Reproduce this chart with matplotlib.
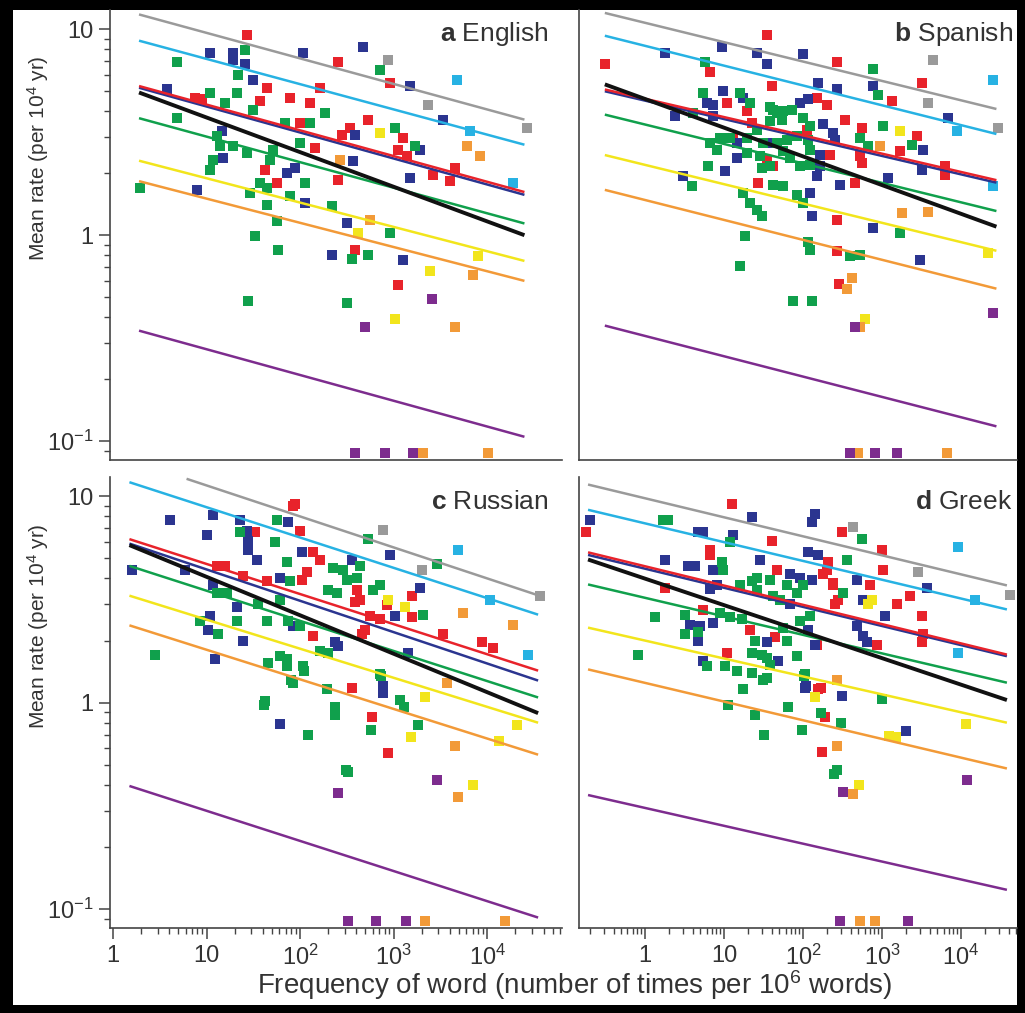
import numpy as np
import matplotlib
matplotlib.use("Agg")
import matplotlib.pyplot as plt
from matplotlib.patches import Rectangle
from matplotlib.ticker import LogLocator, NullFormatter

plt.rcParams['font.family'] = ['Liberation Sans', 'DejaVu Sans']
plt.rcParams['mathtext.fontset'] = 'custom'
plt.rcParams['mathtext.rm'] = 'Liberation Sans'
plt.rcParams['mathtext.it'] = 'Liberation Sans:italic'
plt.rcParams['mathtext.bf'] = 'Liberation Sans:bold'

colors = {'red': '#e8232b', 'navy': '#2b3590', 'green': '#10a04c', 'cyan': '#27b2e3',
          'gray': '#9a9a9a', 'yellow': '#f2e51c', 'orange': '#f29a38',
          'purple': '#7d2c8e', 'black': '#111111'}

# ---- a English: (frequency, rate) per word class ----
eng_red = [(27, 9.35), (7.5, 4.66), (8.9, 4.56), (44, 5.2), (37, 4.5), (42, 2.08), (57, 1.79),
           (255, 6.9), (918, 5.5), (533, 3.64), (281, 3.07), (342, 3.33), (1250, 2.97), (1117, 2.6),
           (1394, 2.43), (2645, 1.96), (4000, 1.83), (4550, 2.12), (255, 1.85), (387, 0.85),
           (1117, 0.57), (128, 4.4), (78, 4.66), (164, 5.2), (100, 3.5), (145, 2.65)]
eng_navy = [(10.9, 7.7), (19.2, 7.7), (19.2, 7.06), (25.8, 6.75), (31.4, 5.64), (3.78, 5.1),
            (14.6, 3.22), (15, 2.37), (73, 2.0), (7.9, 1.66), (108, 7.7), (472, 8.2), (1500, 5.33),
            (3380, 3.64), (387, 3.07), (1920, 2.6), (1500, 1.9), (369, 2.3), (318, 1.15),
            (220, 0.8), (1265, 0.76), (113, 1.43), (88, 2.12)]
eng_green = [(25.8, 7.9), (4.84, 6.9), (21.7, 6.0), (10.9, 4.93), (21, 4.93), (31.4, 4.07),
             (4.84, 3.72), (12.9, 3.04), (13.9, 2.72), (11.7, 2.32), (10.9, 2.08), (19.2, 2.72),
             (27, 2.51), (51, 2.6), (48, 2.32), (1.94, 1.7), (29, 1.6), (44, 1.7), (44, 1.4),
             (57, 1.17), (33, 0.99), (58, 0.85), (717, 6.31), (1040, 3.33), (1700, 2.72),
             (220, 1.38), (918, 1.02), (533, 0.8), (27.7, 0.48), (318, 0.47), (360, 0.77),
             (15.8, 4.4), (69, 3.52), (100, 2.81), (128, 3.52), (184, 3.94), (78, 1.55),
             (113, 1.79), (37, 1.79)]
eng_cyan = [(4780, 5.64), (6550, 3.22), (19000, 1.79)]
eng_gray = [(873, 7.06), (2340, 4.31), (26800, 3.33)]
eng_yellow = [(717, 3.15), (417, 1.02), (8020, 0.79), (1040, 0.39), (2450, 0.67)]
eng_orange = [(6110, 2.72), (8400, 2.43), (267, 2.32), (560, 1.18), (4550, 0.36), (7080, 0.64),
              (2070, 0.088), (10250, 0.088)]
eng_purple = [(495, 0.36), (2580, 0.49), (387, 0.088), (811, 0.088), (1617, 0.088)]

# ---- b Spanish ----
spa_red = [(0.31, 6.75), (35, 9.35), (269, 6.9), (6.65, 6.2), (3210, 5.5), (40.5, 5.33),
           (1340, 4.5), (10.9, 4.4), (150, 4.66), (201, 4.31), (19.5, 4.0), (22.6, 3.52),
           (112, 3.25), (340, 3.64), (558, 3.33), (2770, 3.04), (1680, 2.56), (527, 2.43),
           (558, 2.24), (6270, 2.17), (6270, 1.96), (13, 2.97), (35, 2.32), (42, 2.17),
           (220, 2.45), (27, 1.79), (455, 1.79), (269, 1.18), (269, 0.84), (286, 0.58)]
spa_navy = [(1.79, 7.7), (9.4, 8.17), (26, 7.7), (35, 6.75), (100, 7.6), (155, 5.5), (269, 5.1),
            (770, 5.33), (9.7, 5.0), (17.4, 4.66), (6.1, 4.4), (7.3, 4.31), (2.4, 3.8), (7.3, 3.8),
            (92, 4.4), (116, 4.56), (179, 3.45), (240, 3.15), (254, 2.9), (6840, 3.72),
            (3300, 2.6), (3210, 2.08), (1190, 1.9), (14.6, 2.81), (14.6, 2.37), (40.5, 2.81),
            (164, 2.45), (164, 2.17), (150, 1.94), (10.3, 2.05), (3.0, 1.94), (123, 1.6),
            (294, 1.75), (130, 1.24), (770, 1.08), (3000, 0.76)]
spa_green = [(5.75, 6.9), (770, 6.38), (890, 4.8), (5.4, 4.93), (15.9, 4.93), (21.3, 4.4),
             (4.05, 3.94), (42, 4.07), (56, 4.0), (72.6, 4.07), (38, 3.6), (54, 3.64), (100, 3.72),
             (123, 3.4), (1030, 3.4), (527, 2.97), (665, 2.72), (2400, 2.75), (6.65, 2.81),
             (8.15, 2.6), (8.9, 2.97), (11.9, 2.97), (19.5, 2.97), (26, 3.25), (38, 4.17),
             (47, 3.94), (31, 2.81), (47, 2.81), (63, 2.9), (84, 3.04), (116, 2.9), (123, 2.6),
             (19.5, 2.51), (28.6, 2.43), (56, 2.56), (68, 2.37), (92, 2.17), (123, 2.2),
             (6.3, 2.17), (30, 2.12), (38, 2.17), (3.9, 1.73), (42, 1.75), (56, 1.73), (17.4, 1.6),
             (21.3, 1.43), (26, 1.32), (30, 1.24), (84, 1.57), (100, 1.43), (1680, 1.02),
             (18.5, 0.99), (116, 0.93), (123, 0.85), (394, 0.79), (527, 0.8), (15.9, 0.71),
             (75, 0.48), (130, 0.48)]
spa_cyan = [(25400, 5.64), (8900, 3.22), (25400, 1.73)]
spa_gray = [(4420, 7.06), (3820, 4.4), (29400, 3.33)]
spa_yellow = [(1680, 3.22), (22000, 0.82), (610, 0.39)]
spa_orange = [(940, 2.72), (1790, 1.28), (417, 0.62), (363, 0.55), (3820, 1.3), (527, 0.36),
              (497, 0.088), (6650, 0.088)]
spa_purple = [(455, 0.36), (25400, 0.42), (394, 0.088), (815, 0.088), (1550, 0.088)]

# ---- c Russian ----
rus_red = [(84, 9.0), (88, 9.2), (33, 6.7), (100, 6.8), (138, 5.4), (164, 4.9), (12.9, 4.6),
           (15.8, 4.6), (24.6, 4.1), (44, 3.9), (119, 4.3), (105, 3.95), (407, 3.5), (1580, 3.3),
           (387, 3.06), (438, 3.16), (851, 2.96), (1580, 2.6), (561, 2.64), (717, 2.53),
           (3380, 2.14), (8850, 1.96), (11600, 1.85), (460, 2.14), (495, 2.26), (138, 2.11),
           (360, 1.18), (590, 0.85), (873, 0.57)]
rus_navy = [(4.1, 7.65), (11.7, 8.1), (10.1, 6.5), (22.8, 7.7), (27, 6.8), (27.8, 6.1), (74, 7.5),
            (27.8, 5.5), (34.7, 4.9), (1.6, 4.4), (5.9, 4.4), (61, 4.0), (11.7, 3.7), (21, 2.9),
            (10.9, 2.64), (10.4, 2.26), (24.6, 2.0), (12.3, 1.62), (84, 2.36), (918, 5.2),
            (360, 4.9), (105, 5.35), (1920, 3.6), (1040, 2.64), (1430, 1.75), (237, 1.96),
            (255, 1.89), (93, 2.36), (772, 1.21), (772, 1.12), (61, 0.79)]
rus_green = [(22.8, 6.7), (57, 7.7), (54, 6.0), (73, 4.8), (12.9, 3.4), (16.6, 3.4), (21, 2.5),
             (35.6, 3.0), (44, 2.5), (8.5, 2.5), (13.3, 2.14), (2.8, 1.71), (45.5, 1.56),
             (61, 1.69), (73, 1.5), (84, 1.25), (42, 1.02), (61, 3.16), (533, 6.2), (2920, 4.7),
             (225, 4.5), (288, 4.4), (438, 4.6), (78, 3.9), (199, 3.5), (249, 3.4), (318, 3.95),
             (407, 4.0), (604, 3.5), (717, 3.7), (2070, 2.67), (164, 1.79), (199, 1.75),
             (74, 2.5), (100, 2.36), (717, 1.37), (195, 1.16), (73, 1.62), (108, 1.5),
             (1175, 1.03), (41, 0.97), (122, 0.70), (237, 0.95), (237, 0.87), (80, 1.29),
             (110, 1.43), (735, 1.35), (1295, 0.95), (575, 0.74), (1830, 0.78), (310, 0.47),
             (326, 0.46)]
rus_cyan = [(4900, 5.5), (10800, 3.16), (27500, 1.71)]
rus_gray = [(772, 6.9), (2020, 4.4), (36900, 3.3)]
rus_yellow = [(873, 3.16), (1330, 2.9), (2170, 1.06), (1540, 0.68), (13400, 0.65), (20900, 0.78),
              (7100, 0.40)]
rus_orange = [(5500, 2.73), (19000, 2.39), (3730, 1.25), (4550, 0.62), (4900, 0.35),
              (2170, 0.088), (15500, 0.088)]
rus_purple = [(2920, 0.42), (255, 0.365), (326, 0.088), (650, 0.088), (1360, 0.088)]

# ---- d Greek ----
gre_red = [(12.6, 9.15), (0.18, 6.7), (312, 6.7), (40.5, 6.1), (1000, 5.5), (6.65, 5.5),
           (6.65, 5.2), (207, 4.8), (201, 4.4), (47, 4.4), (179, 4.2), (240, 3.8), (1030, 4.4),
           (240, 3.7), (705, 3.7), (2260, 3.3), (1.79, 3.6), (277, 3.16), (254, 3.0), (1550, 3.0),
           (3210, 2.64), (865, 1.9), (3210, 1.96), (3300, 2.14), (5.4, 2.8), (21.3, 2.26),
           (44, 2.07), (150, 1.9), (10.9, 1.75), (155, 1.16), (169, 1.18), (190, 0.85),
           (175, 0.58)]
gre_navy = [(0.2, 7.65), (22.6, 7.9), (142, 8.2), (130, 7.5), (13, 6.5), (1.79, 4.9), (28.6, 4.9),
            (116, 5.35), (155, 5.2), (3.5, 4.6), (4.3, 4.6), (7.3, 4.4), (68, 4.2), (92, 4.0),
            (130, 3.95), (483, 3.95), (3710, 3.6), (6.65, 3.55), (8.15, 3.7), (68, 3.0),
            (574, 3.16), (1090, 2.64), (483, 2.36), (574, 2.1), (646, 1.96), (3.7, 2.39),
            (5.0, 2.36), (7.3, 2.44), (4.7, 2.0), (35, 1.96), (116, 2.26), (142, 1.9), (5.4, 1.6),
            (48, 1.6), (106, 1.18), (312, 1.08), (109, 1.21), (2010, 0.73), (4.7, 6.7),
            (5.4, 6.7)]
gre_green = [(1.69, 7.7), (1.95, 7.65), (11.9, 6.0), (558, 6.2), (361, 4.9), (9.4, 4.8),
             (9.7, 4.4), (26, 4.0), (38, 3.95), (321, 3.4), (16, 3.7), (22.6, 3.9), (26, 3.5),
             (63, 3.7), (84, 3.4), (100, 3.7), (42, 3.3), (51, 3.16), (1.34, 2.6), (3.2, 2.67),
             (8.9, 2.73), (11.9, 2.6), (16.9, 2.53), (3.2, 2.14), (4.7, 2.19), (24.7, 2.0),
             (56, 2.31), (92, 2.5), (123, 2.64), (63, 2.0), (0.82, 1.71), (6.1, 1.5), (22.6, 1.75),
             (30, 1.71), (35, 1.65), (38, 1.53), (10.3, 1.5), (14.6, 1.43), (22.6, 1.4), (31, 1.29),
             (84, 1.69), (106, 1.37), (17.4, 1.16), (1000, 1.04), (11.2, 0.97), (24.7, 0.87),
             (32, 0.70), (65, 0.95), (35, 1.32), (103, 1.35), (169, 0.89), (303, 0.80), (97, 0.74),
             (269, 0.47), (247, 0.45)]
gre_cyan = [(9160, 5.65), (15000, 3.16), (9160, 1.75)]
gre_gray = [(430, 7.1), (2860, 4.3), (41700, 3.34)]
gre_yellow = [(750, 3.16), (665, 3.0), (142, 1.06), (512, 0.40), (1230, 0.69), (1500, 0.68),
              (11600, 0.79)]
gre_orange = [(269, 1.29), (269, 0.62), (430, 0.36), (527, 0.088), (815, 0.088)]
gre_purple = [(321, 0.37), (11900, 0.42), (294, 0.088), (2130, 0.088)]

# ---- fitted lines: rate at start and end of frequency range ----
eng_fit_x = [1.9, 25000]
eng_fit = {'purple': [0.344, 0.105], 'orange': [1.83, 0.6], 'yellow': [2.3, 0.75],
           'green': [3.7, 1.14], 'navy': [5.2, 1.57], 'red': [5.3, 1.62], 'cyan': [8.8, 2.75],
           'gray': [11.8, 3.64], 'black': [4.93, 1.0]}
spa_fit_x = [0.31, 28000]
spa_fit = {'purple': [0.364, 0.118], 'orange': [1.66, 0.55], 'yellow': [2.45, 0.84],
           'green': [3.85, 1.31], 'red': [5.1, 1.85], 'navy': [5.0, 1.8], 'cyan': [9.3, 3.1],
           'gray': [12.0, 4.1], 'black': [5.4, 1.1]}
rus_fit_x = [1.5, 35000]
rus_fit = {'purple': [0.395, 0.091], 'orange': [2.37, 0.56], 'yellow': [3.3, 0.8],
           'green': [4.6, 1.06], 'navy': [5.9, 1.28], 'red': [6.2, 1.43], 'cyan': [11.7, 2.67],
           'black': [5.8, 0.89]}
rus_gray_x = [6.3, 36000]
rus_gray_y = [12.1, 3.3]
gre_fit_x = [0.19, 38000]
gre_fit = {'purple': [0.357, 0.124], 'orange': [1.45, 0.48], 'yellow': [2.31, 0.8],
           'green': [3.74, 1.25], 'navy': [5.2, 1.68], 'red': [5.35, 1.71], 'cyan': [8.6, 2.83],
           'gray': [11.4, 3.7], 'black': [4.94, 1.03]}

W, H = 1025, 1013
fig = plt.figure(figsize=(W / 100, H / 100), dpi=100, facecolor='black')
fig.add_artist(Rectangle((13 / W, 8 / H), 1004 / W, 995 / H, transform=fig.transFigure,
                         facecolor='white', edgecolor='none', zorder=-5))


def add_panel(left_px, top_px, right_px, bottom_px):
    return fig.add_axes([left_px / W, 1 - bottom_px / H, (right_px - left_px) / W,
                         (bottom_px - top_px) / H])


ax_a = add_panel(110, 10, 562, 460)
ax_b = add_panel(579, 10, 1017, 460)
ax_c = add_panel(110, 477, 562, 928)
ax_d = add_panel(579, 477, 1017, 928)

panels = [
    (ax_a, 'a', 'English', [eng_red, eng_navy, eng_green, eng_cyan, eng_gray, eng_yellow,
                           eng_orange, eng_purple], eng_fit_x, eng_fit, (0.93, 63000)),
    (ax_b, 'b', 'Spanish', [spa_red, spa_navy, spa_green, spa_cyan, spa_gray, spa_yellow,
                           spa_orange, spa_purple], spa_fit_x, spa_fit, (0.146, 51000)),
    (ax_c, 'c', 'Russian', [rus_red, rus_navy, rus_green, rus_cyan, rus_gray, rus_yellow,
                           rus_orange, rus_purple], rus_fit_x, rus_fit, (0.93, 63000)),
    (ax_d, 'd', 'Greek', [gre_red, gre_navy, gre_green, gre_cyan, gre_gray, gre_yellow,
                         gre_orange, gre_purple], gre_fit_x, gre_fit, (0.146, 51000)),
]
class_names = ['red', 'navy', 'green', 'cyan', 'gray', 'yellow', 'orange', 'purple']
line_order = ['purple', 'orange', 'yellow', 'green', 'navy', 'red', 'cyan', 'gray', 'black']

for ax, letter, lang, groups, fit_x, fit, xlim in panels:
    ax.set_xscale('log')
    ax.set_yscale('log')
    for name, pts in zip(class_names, groups):
        ax.scatter([p[0] for p in pts], [p[1] for p in pts], marker='s', s=58,
                   color=colors[name], linewidths=0, zorder=2)
    for name in line_order:
        if name not in fit:
            continue
        ax.plot(fit_x, fit[name], color=colors[name], lw=2.8 if name == 'black' else 1.8,
                solid_capstyle='butt', zorder=3)
    if letter == 'c':
        ax.plot(rus_gray_x, rus_gray_y, color=colors['gray'], lw=1.8, zorder=3)

    ax.set_xlim(*xlim)
    ax.set_ylim(0.081, 12.4)
    for s in ['top', 'right']:
        ax.spines[s].set_visible(False)
    for s in ['left', 'bottom']:
        ax.spines[s].set_color('#444444')
        ax.spines[s].set_linewidth(1.2)

    ax.set_xticks([1, 10, 100, 1000, 10000])
    ax.set_xticklabels(['1', '10', '10$^2$', '10$^3$', '10$^4$'])
    ax.xaxis.set_minor_locator(LogLocator(base=10, subs=np.arange(2, 10), numticks=20))
    ax.xaxis.set_minor_formatter(NullFormatter())
    ax.set_yticks([0.1, 1, 10])
    ax.set_yticklabels(['10$^{-1}$', '1', '10'])
    ax.yaxis.set_minor_locator(LogLocator(base=10, subs=np.arange(2, 10), numticks=20))
    ax.yaxis.set_minor_formatter(NullFormatter())
    ax.tick_params(which='major', direction='out', length=8, width=1.1, color='#444444',
                   labelsize=17, labelcolor='#333333', pad=4)
    ax.tick_params(which='minor', direction='out', length=4, width=1.0, color='#444444')

    if letter in ('a', 'b'):
        ax.tick_params(axis='x', which='both', bottom=False, labelbottom=False)
    if letter in ('b', 'd'):
        ax.tick_params(axis='y', which='both', left=False, labelleft=False)
    else:
        ax.set_ylabel('Mean rate (per 10$^4$ yr)', fontsize=15, color='#333333')
        ax.yaxis.set_label_coords(-0.13, 0.67)

    tx = 0.97 if letter in ('a', 'c') else 0.99
    ty = 0.947 if letter in ('a', 'b') else 0.945
    ax.text(tx, ty, r'$\mathbf{' + letter + '}$ ' + lang, transform=ax.transAxes,
            ha='right', va='center', fontsize=19, color='#333333')

fig.text(0.561, 0.028, 'Frequency of word (number of times per 10$^6$ words)',
         ha='center', va='center', fontsize=20, color='#333333')

plt.savefig('out.png', dpi=100, facecolor=fig.get_facecolor())
